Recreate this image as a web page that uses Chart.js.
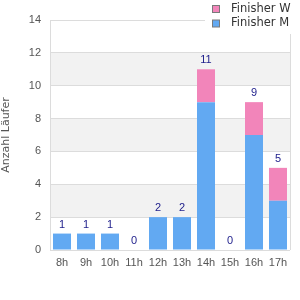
<!DOCTYPE html>
<html>
<head>
<meta charset="utf-8">
<script src="https://cdn.jsdelivr.net/npm/chart.js@4/dist/chart.umd.min.js"></script>
<style>
html,body{margin:0;padding:0;background:#fff;}
#wrap{width:300px;height:300px;position:relative;}
</style>
</head>
<body>
<div id="wrap"><canvas id="c" width="300" height="300"></canvas></div>
<script>
const categories = ["8h","9h","10h","11h","12h","13h","14h","15h","16h","17h"];
const finisherM = [1,1,1,0,2,2,9,0,7,3];
const finisherW = [0,0,0,0,0,0,2,0,2,2];
const seriesNames = ["Finisher M","Finisher W"];
const seriesColors = ["#62a9f2","#f285ba"];
const yTitle = "Anzahl Läufer";
const yMin = 0, yMax = 14, yStep = 2;

const bandsPlugin = {
  id: 'bands',
  beforeDraw(chart) {
    const {ctx, chartArea, scales} = chart;
    const y = scales.y;
    ctx.save();
    ctx.fillStyle = '#f2f2f2';
    for (let v = yMin + yStep; v < yMax; v += 2 * yStep) {
      const top = y.getPixelForValue(v + yStep);
      const bot = y.getPixelForValue(v);
      ctx.fillRect(chartArea.left, top, chartArea.right - chartArea.left, bot - top);
    }
    ctx.restore();
  },
  afterDraw(chart) {
    const {ctx, chartArea, scales} = chart;
    ctx.save();
    ctx.strokeStyle = '#dcdcdc';
    ctx.lineWidth = 1;
    ctx.beginPath();
    ctx.moveTo(Math.round(chartArea.right) + 0.5, chartArea.top);
    ctx.lineTo(Math.round(chartArea.right) + 0.5, chartArea.bottom);
    ctx.stroke();
    // totals
    const x = scales.x, y = scales.y;
    ctx.fillStyle = '#1c1c8a';
    ctx.font = '11px "Liberation Sans", Arial, sans-serif';
    ctx.textAlign = 'center';
    ctx.textBaseline = 'middle';
    categories.forEach((c, i) => {
      const tot = finisherM[i] + finisherW[i];
      ctx.fillText(String(tot), x.getPixelForValue(i), y.getPixelForValue(tot) - 9);
    });
    // legend
    ctx.fillStyle = '#ffffff';
    ctx.fillRect(205, 0, 95, 34);
    const ds = chart.data.datasets;
    const order = [1, 0];
    ctx.font = '11.5px "DejaVu Sans", sans-serif';
    ctx.textAlign = 'left';
    order.forEach((di, k) => {
      const cy = 9 + k * 14.5;
      ctx.fillStyle = ds[di].backgroundColor;
      ctx.fillRect(212.5, cy - 3.5, 7, 7);
      ctx.strokeStyle = '#7a7a7a';
      ctx.strokeRect(212.5, cy - 3.5, 7, 7);
      ctx.fillStyle = '#333';
      ctx.fillText(ds[di].label, 231, cy);
    });
    ctx.restore();
  }
};

new Chart(document.getElementById('c'), {
  type: 'bar',
  data: {
    labels: categories,
    datasets: [
      {label: seriesNames[0], data: finisherM, backgroundColor: seriesColors[0], borderWidth: 0},
      {label: seriesNames[1], data: finisherW, backgroundColor: seriesColors[1], borderWidth: 0}
    ]
  },
  options: {
    responsive: false,
    animation: false,
    devicePixelRatio: 1,
    layout: {padding: {left: 0, right: 10, top: 20, bottom: 0}},
    datasets: {bar: {categoryPercentage: 1, barPercentage: 0.75}},
    plugins: {legend: {display: false}, tooltip: {enabled: false}},
    scales: {
      x: {
        stacked: true,
        grid: {display: false, drawTicks: false},
        border: {display: false},
        ticks: {color: '#555', padding: 6, font: {family: '"Liberation Sans", Arial, sans-serif', size: 11}, maxRotation: 0, autoSkip: false},
        afterFit(s) { s.height = 50; }
      },
      y: {
        stacked: true,
        min: yMin, max: yMax,
        grid: {color: '#dcdcdc', drawTicks: false},
        border: {display: true, color: '#dcdcdc'},
        ticks: {stepSize: yStep, color: '#555', padding: 9, font: {family: '"Liberation Sans", Arial, sans-serif', size: 11}},
        title: {display: true, text: yTitle, color: '#555', padding: 0, font: {family: '"DejaVu Sans", sans-serif', size: 11}},
        afterFit(s) { s.width = 50; }
      }
    }
  },
  plugins: [bandsPlugin]
});
</script>
</body>
</html>
